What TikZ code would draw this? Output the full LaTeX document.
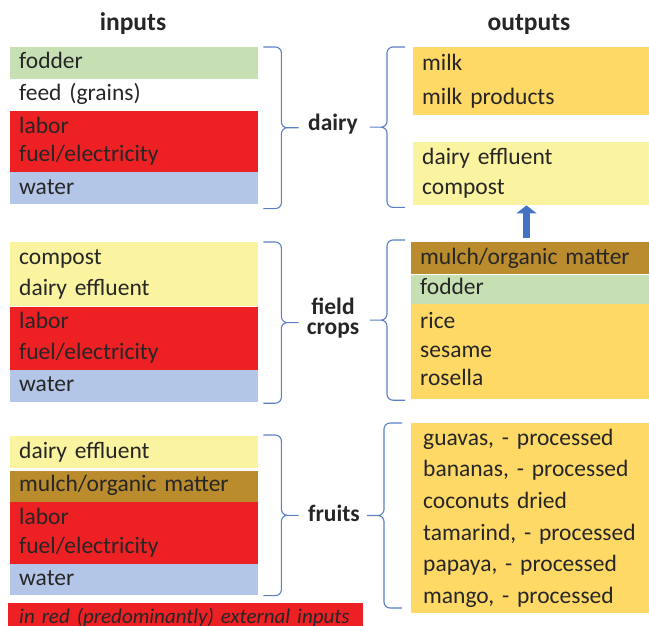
\documentclass[tikz,border=0pt]{standalone}
\usepackage{fontspec}
\setmainfont{Carlito}
\usetikzlibrary{positioning,calc,arrows.meta}
\definecolor{ink}{HTML}{262626}
\definecolor{fodgreen}{HTML}{C6E0B4}
\definecolor{extred}{HTML}{ED2024}
\definecolor{watblue}{HTML}{B4C6E7}
\definecolor{effyellow}{HTML}{FAF39F}
\definecolor{prodorange}{HTML}{FFD966}
\definecolor{mulchbrown}{HTML}{BB8C2E}
\definecolor{braceblue}{HTML}{5A7FC8}
\definecolor{arrowblue}{HTML}{4472C4}
\tikzset{
  box/.style={anchor=north west, text width=230pt, inner xsep=9pt, inner ysep=0pt,
    align=left, text=ink, font=\fontsize{23.5}{#1}\selectfont,
    execute at begin node=\strut, execute at end node=\strut},
  box/.default=29,
  outbox/.style={box=#1, text width=220pt},
  outbox/.default=29,
  title/.style={anchor=base, text=ink, font=\fontsize{25.5}{30}\bfseries\selectfont},
  lab/.style={text=ink, align=center, font=\fontsize{23.5}{20}\bfseries\selectfont},
  % office-like curly brace, #1 = signed spine offset
  cbrace/.style={draw=braceblue, line width=1.1pt, rounded corners=6pt,
    to path={-- ($(\tikztostart)+(#1,0)$)
      -- ($(\tikztostart)!.5!(\tikztotarget)+(#1,0)$)
      -- ($(\tikztostart)!.5!(\tikztotarget)+({1.95*(#1)},0)$)
      ($(\tikztostart)!.5!(\tikztotarget)+({1.95*(#1)},0)$)
      -- ($(\tikztostart)!.5!(\tikztotarget)+(#1,0)$)
      -- ($(\tikztotarget)+(#1,0)$) -- (\tikztotarget)}},
  legend/.style={anchor=north west, fill=extred, minimum height=30pt, text width=333pt,
    inner xsep=11pt, inner ysep=0pt, align=left, text=ink,
    font=\fontsize{21}{24}\itshape\selectfont, execute at begin node=\strut},
  uparrow/.style={-{Triangle[width=20pt,length=8pt]}, line width=7pt, draw=arrowblue, shorten <=4pt}
}
\begin{document}
\begin{tikzpicture}[x=1pt,y=-1pt]
\useasboundingbox (0,0) rectangle (649,626);
\node[title] (tin) at (133,31) {inputs};
\node[title] (tout) at (529,31) {outputs};
% dairy
\node[box, fill=fodgreen, minimum height=32pt] (dfodder) at (10,47) {fodder};
\node[box, minimum height=31pt, below=0pt of dfodder] (dfeed) {feed (grains)};
\node[box=28, fill=extred, minimum height=61pt, below=0pt of dfeed] (dlabor) {labor\\fuel/electricity};
\node[box, fill=watblue, minimum height=32pt, below=0pt of dlabor] (dwater) {water};
\node[lab, anchor=base] (dairy) at (333,131) {dairy};
\node[box=34, text width=218pt, fill=prodorange, minimum height=63pt] (dmilk) at (413,47) {milk\\milk products};
\node[box=30, text width=218pt, fill=effyellow, minimum height=63pt] (deffluent) at (413,142) {dairy effluent\\compost};
% field crops
\node[box=31, fill=effyellow, minimum height=64pt] (ccompost) at (10,242) {compost\\dairy effluent};
\node[box=31, fill=extred, minimum height=63pt, below=0pt of ccompost] (clabor) {labor\\fuel/electricity};
\node[box, fill=watblue, minimum height=32pt, below=0pt of clabor] (cwater) {water};
\node[lab] (crops) at (333,318) {field\\crops};
\node[outbox, fill=mulchbrown, minimum height=32pt] (cmulch) at (411,242) {mulch/organic matter};
\node[outbox, fill=fodgreen, minimum height=29pt, below=0pt of cmulch] (cfodder) {fodder};
\node[outbox=28.5, fill=prodorange, minimum height=95pt, below=0pt of cfodder] (crice) {rice\\sesame\\rosella};
% fruits
\node[box, fill=effyellow, minimum height=32pt] (fdairy) at (10,436) {dairy effluent};
\node[box, fill=mulchbrown, minimum height=31pt, below=2pt of fdairy] (fmulch) {mulch/organic matter};
\node[box, fill=extred, minimum height=62pt, below=0pt of fmulch] (flabor) {labor\\fuel/electricity};
\node[box, fill=watblue, minimum height=31pt, below=0pt of flabor] (fwater) {water};
\node[lab, anchor=base] (fruits) at (334,521) {fruits};
\node[outbox=31.6, text width=217pt, inner xsep=12pt, fill=prodorange, minimum height=189pt] (fguava) at (411,423)
  {guavas, - processed\\bananas, - processed\\coconuts dried\\tamarind, - processed\\papaya, - processed\\mango, - processed};
\node[legend] (key) at (8,603) {in red (predominantly) external inputs};
% braces
\draw[cbrace=18pt] ([xshift=5pt]dfodder.north east) to ([xshift=5pt,yshift=-4pt]dwater.south east);
\draw[cbrace=-18pt] ([xshift=-8pt]dmilk.north west) to ([xshift=-8pt,yshift=-2pt]deffluent.south west);
\draw[cbrace=18pt] ([xshift=5pt]ccompost.north east) to ([xshift=5pt,yshift=-1pt]cwater.south east);
\draw[cbrace=-18pt] ([xshift=-6pt,yshift=2pt]cmulch.north west) to ([xshift=-6pt,yshift=-1pt]crice.south west);
\draw[cbrace=18pt] ([xshift=5pt,yshift=1pt]fdairy.north east) to ([xshift=5pt]fwater.south east);
\draw[cbrace=-18pt] ([xshift=-9pt]fguava.north west) to ([xshift=-9pt,yshift=5pt]fguava.south west);
% compost goes back to dairy
\coordinate (arrowx) at (526.5,0);
\draw[uparrow] (cmulch.north -| arrowx) -- (deffluent.south -| arrowx);
\end{tikzpicture}
\end{document}
